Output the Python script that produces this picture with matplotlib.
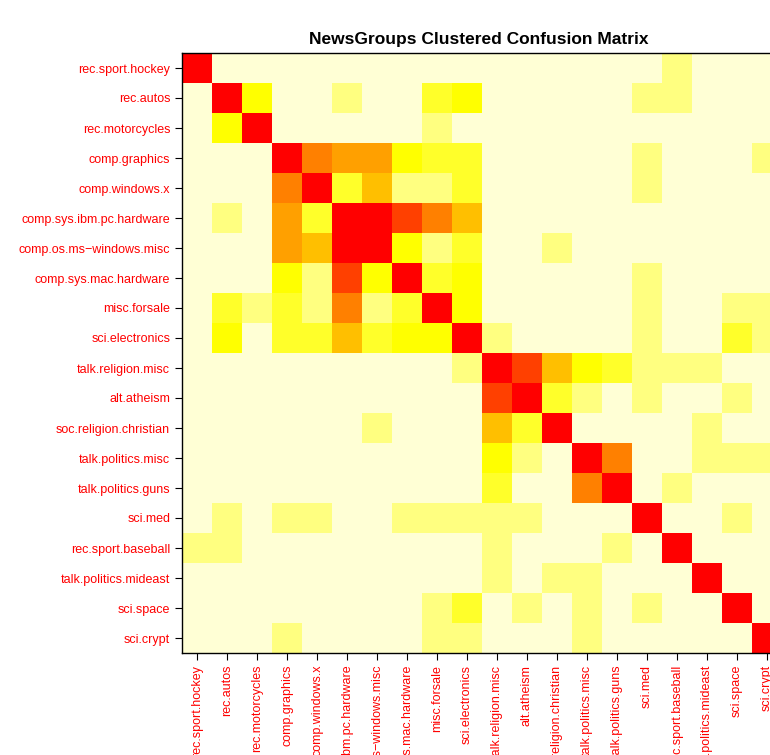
import numpy as np
import matplotlib.pyplot as plt
from matplotlib.colors import ListedColormap

labels = ["rec.sport.hockey", "rec.autos", "rec.motorcycles", "comp.graphics",
          "comp.windows.x", "comp.sys.ibm.pc.hardware", "comp.os.ms-windows.misc",
          "comp.sys.mac.hardware", "misc.forsale", "sci.electronics",
          "talk.religion.misc", "alt.atheism", "soc.religion.christian",
          "talk.politics.misc", "talk.politics.guns", "sci.med",
          "rec.sport.baseball", "talk.politics.mideast", "sci.space", "sci.crypt"]

# colour level per cell (0 = none, 8 = max)
levels = np.array([
    [8,0,0,0,0,0,0,0,0,0, 0,0,0,0,0,0,1,0,0,0],
    [0,8,3,0,0,1,0,0,2,3, 0,0,0,0,0,1,1,0,0,0],
    [0,3,8,0,0,0,0,0,1,0, 0,0,0,0,0,0,0,0,0,0],
    [0,0,0,8,6,5,5,3,2,2, 0,0,0,0,0,1,0,0,0,1],
    [0,0,0,6,8,2,4,1,1,2, 0,0,0,0,0,1,0,0,0,0],
    [0,1,0,5,2,8,8,7,6,4, 0,0,0,0,0,0,0,0,0,0],
    [0,0,0,5,4,8,8,3,1,2, 0,0,1,0,0,0,0,0,0,0],
    [0,0,0,3,1,7,3,8,2,3, 0,0,0,0,0,1,0,0,0,0],
    [0,2,1,2,1,6,1,2,8,3, 0,0,0,0,0,1,0,0,1,1],
    [0,3,0,2,2,4,2,3,3,8, 1,0,0,0,0,1,0,0,2,1],
    [0,0,0,0,0,0,0,0,0,1, 8,7,4,3,2,1,1,1,0,0],
    [0,0,0,0,0,0,0,0,0,0, 7,8,2,1,0,1,0,0,1,0],
    [0,0,0,0,0,0,1,0,0,0, 4,2,8,0,0,0,0,1,0,0],
    [0,0,0,0,0,0,0,0,0,0, 3,1,0,8,6,0,0,1,1,1],
    [0,0,0,0,0,0,0,0,0,0, 2,0,0,6,8,0,1,0,0,0],
    [0,1,0,1,1,0,0,1,1,1, 1,1,0,0,0,8,0,0,1,0],
    [1,1,0,0,0,0,0,0,0,0, 1,0,0,0,1,0,8,0,0,0],
    [0,0,0,0,0,0,0,0,0,0, 1,0,1,1,0,0,0,8,0,0],
    [0,0,0,0,0,0,0,0,1,2, 0,1,0,1,0,1,0,0,8,0],
    [0,0,0,1,0,0,0,0,1,1, 0,0,0,1,0,0,0,0,0,8],
])

cmap = ListedColormap(["#FFFFD5", "#FFFF80", "#FFFF2A", "#FFFF00", "#FFBF00",
                       "#FFA000", "#FF8000", "#FF4000", "#FF0000"])

fig = plt.figure(figsize=(7.7, 7.55), dpi=100)
ax = fig.add_axes([182 / 770, 1 - 653 / 755, 600 / 770, 600 / 755])
ax.imshow(levels, cmap=cmap, vmin=-0.5, vmax=8.5, aspect="auto", interpolation="nearest")

tick_labels = [l.replace("-", "\u2212") for l in labels]
ax.set_xticks(range(20))
ax.set_xticklabels(tick_labels, rotation=90, color="red", fontsize=9, va="top")
ax.set_yticks(range(20))
ax.set_yticklabels(tick_labels, color="red", fontsize=9)
ax.tick_params(length=5)
for s in ax.spines.values():
    s.set_linewidth(1)

fig.text(0.622, 0.958, "NewsGroups Clustered Confusion Matrix", ha="center", va="top",
         fontsize=12.5, fontweight="bold", family="Liberation Sans")
plt.setp(ax.get_xticklabels() + ax.get_yticklabels(), family="Liberation Sans")

fig.savefig("out.png", dpi=100)
